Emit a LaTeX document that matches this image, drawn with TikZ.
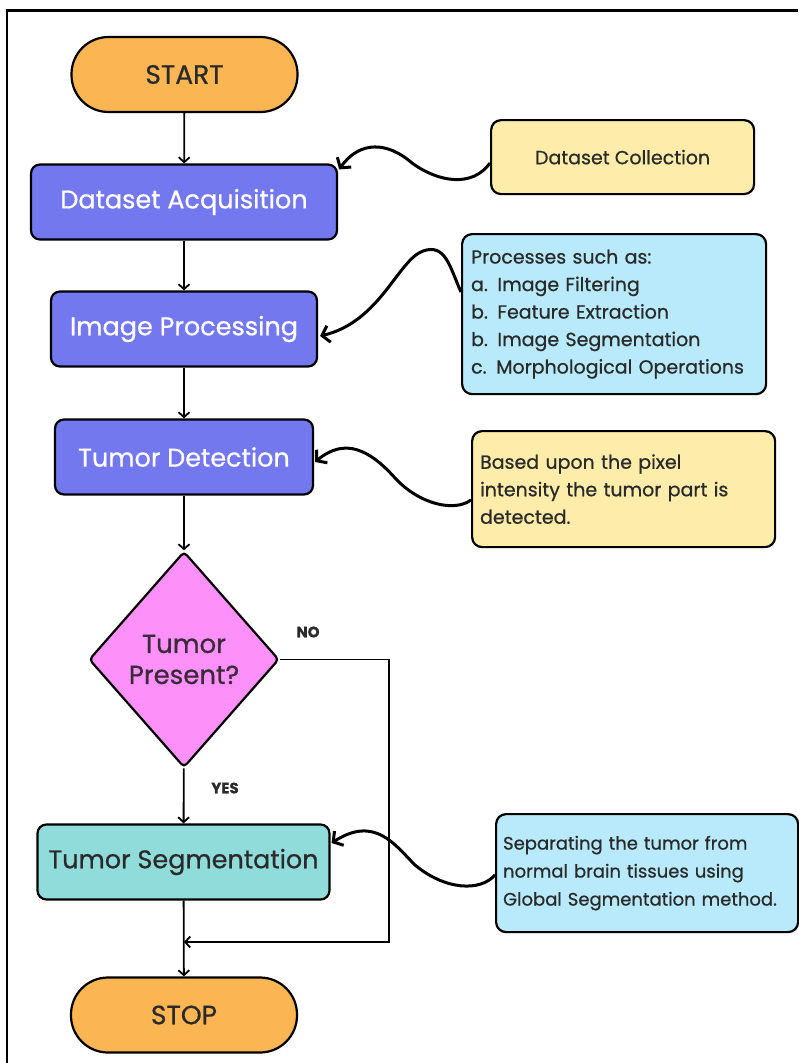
\documentclass[tikz,border=0pt]{standalone}
\usepackage{fontspec}
\setmainfont{Poppins}[RawFeature={embolden=0.7}]
\usetikzlibrary{arrows.meta,shapes.geometric,calc}
\definecolor{orangec}{HTML}{FBB552}
\definecolor{bluec}{HTML}{7478EE}
\definecolor{pinkc}{HTML}{FD90F9}
\definecolor{tealc}{HTML}{8FDCDB}
\definecolor{yellowc}{HTML}{FEEDAA}
\definecolor{lbluec}{HTML}{B8EAFB}
\definecolor{darktext}{HTML}{2A2A2A}
\definecolor{purpletext}{HTML}{3B2A3A}
\begin{document}
\begin{tikzpicture}[x=1pt,y=-1pt,
  term/.style={draw, line width=2.2pt, fill=orangec, rounded corners=37pt,
    minimum width=226pt, minimum height=75pt, inner sep=0pt,
    font=\fontsize{26.5}{30}\selectfont, text=darktext},
  proc/.style={draw, line width=2.2pt, rounded corners=9pt, fill=bluec,
    text=white, font=\fontsize{25.5}{30}\selectfont, minimum height=75pt, inner sep=0pt},
  note/.style={draw, line width=2.2pt, rounded corners=10pt, align=left,
    font=\fontsize{19}{27.5}\selectfont, text=darktext, anchor=north west,
    inner ysep=0pt},
  lbl/.style={font=\bfseries\fontsize{15}{17}\selectfont, text=darktext},
  arr/.style={line width=1.8pt, -{Straight Barb[length=5pt,width=11pt]}},
  curvy/.style={line width=3pt, -{Straight Barb[length=7pt,width=17pt]}}
]
\useasboundingbox (0,0) rectangle (798,1063);
% frame
\draw[line width=2.6pt] (7,1063) -- (7,10.5) -- (798,10.5);

% main flow
\node[term] (start) at (184.5,74.5) {START};
\node[proc, minimum width=306pt] (da) at (184,202) {Dataset Acquisition};
\node[proc, minimum width=266pt] (ip) at (184,329) {Image Processing};
\node[proc, minimum width=258pt] (td) at (184,457) {Tumor Detection};
\node[draw, line width=2.2pt, diamond, fill=pinkc, minimum width=190pt,
  minimum height=216pt, inner sep=0pt, rounded corners=4pt, align=center,
  text=purpletext, font=\fontsize{26}{31}\selectfont] (dec) at (184,659.5) {Tumor\\Present?};
\node[proc, fill=tealc, text=darktext, minimum width=292pt] (ts) at (183.5,862) {Tumor Segmentation};
\node[term] (stop) at (184,1015) {STOP};

% notes
\node[note, fill=yellowc, align=center, minimum width=263pt, minimum height=74pt] (dc) at (490,119) {Dataset Collection};
\node[note, fill=lbluec, inner xsep=9pt, text width=286pt, minimum height=160pt] (pr) at (461,233)
  {Processes such as:\\a. Image Filtering\\b. Feature Extraction\\b. Image Segmentation\\c. Morphological Operations};
\node[note, fill=yellowc, inner xsep=8pt, text width=287pt, minimum height=116pt] (bu) at (471,430)
  {Based upon the pixel\\intensity the tumor part is\\detected.};
\node[note, fill=lbluec, inner xsep=7pt, text width=288pt, minimum height=118pt,
  font=\fontsize{18}{28}\selectfont] (sp) at (495,813)
  {Separating the tumor from\\normal brain tissues using\\Global Segmentation method.};

% labels
\node[lbl] (no) at (308,632) {NO};
\node[lbl] (yes) at (225,788) {YES};

% flow arrows
\draw[arr] (start) -- (da);
\draw[arr] (da) -- (ip);
\draw[arr] (ip) -- (td);
\draw[arr] (td) -- (dec);
\draw[arr] (dec) -- (ts);
\draw[arr] (ts) -- (stop);
\coordinate (join) at (184,942);
\coordinate (nocorner) at (389,942);
\draw[arr] (dec.east) -| (nocorner) -- (join);

% curvy connectors
\draw[curvy] ([yshift=-6pt]dc.west) .. controls (472,188) and (438,182) .. (412,163)
  .. controls (388,142) and (360,140) .. ([xshift=1pt,yshift=-6pt]da.north east);
\draw[curvy] ([yshift=-59pt]pr.north west) .. controls (450,268) and (446,243) .. (423,251)
  .. controls (398,260) and (380,322) .. ([xshift=2pt,yshift=-7pt]ip.east);
\draw[curvy] ([yshift=-70pt]bu.north west) .. controls (455,512) and (420,505) .. (395,478)
  .. controls (370,450) and (345,437) .. ([xshift=1pt,yshift=-5pt]td.east);
\draw[curvy] ([yshift=-62pt]sp.north west) .. controls (480,892) and (445,890) .. (415,865)
  .. controls (395,845) and (375,815) .. ([xshift=1pt,yshift=19pt]ts.east);
\end{tikzpicture}
\end{document}
